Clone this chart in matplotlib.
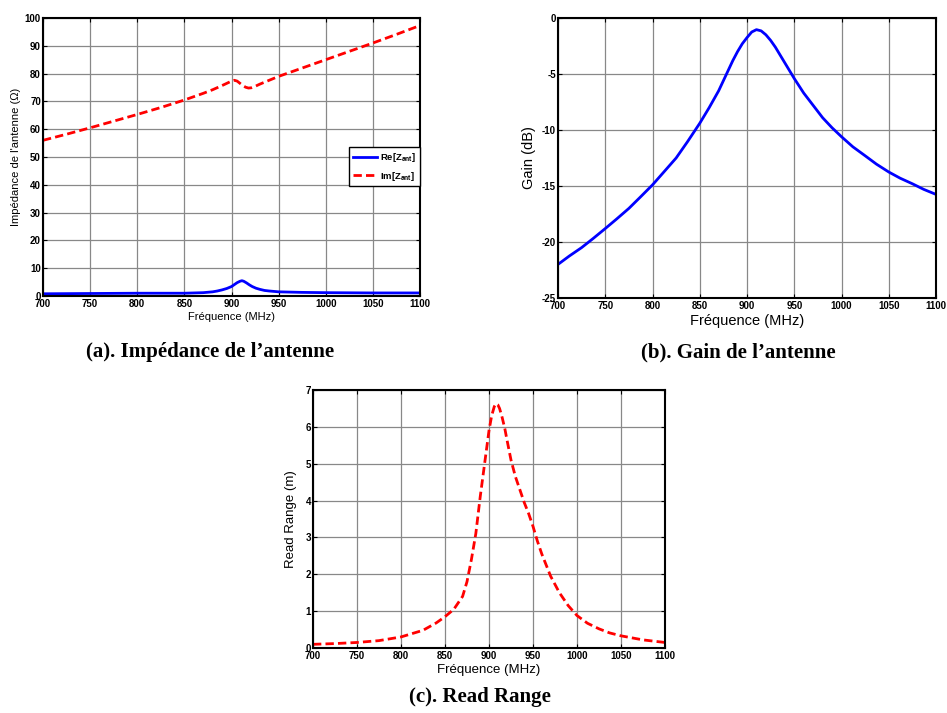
import matplotlib
matplotlib.use('Agg')
import matplotlib.pyplot as plt

# data
f_im = [700, 725, 750, 775, 800, 825, 850, 870, 880, 890, 895, 900, 903, 906, 909, 912, 915, 918, 921, 925, 930, 940, 950, 975, 1000, 1025, 1050, 1075, 1100]
im_z = [56.0, 58.2, 60.5, 62.9, 65.3, 67.8, 70.5, 72.9, 74.2, 75.7, 76.5, 77.3, 77.6, 77.3, 76.5, 75.7, 75.1, 74.8, 74.9, 75.4, 76.2, 77.6, 79.0, 82.0, 85.0, 88.0, 91.0, 94.1, 97.3]

f_re = [700, 750, 800, 850, 860, 870, 880, 885, 890, 895, 900, 903, 906, 909, 911, 913, 916, 919, 922, 926, 930, 935, 940, 950, 975, 1000, 1050, 1100]
re_z = [0.8, 0.9, 1.0, 1.0, 1.1, 1.2, 1.5, 1.8, 2.2, 2.7, 3.4, 4.1, 4.8, 5.3, 5.5, 5.3, 4.7, 4.0, 3.4, 2.8, 2.4, 2.0, 1.8, 1.5, 1.3, 1.2, 1.1, 1.1]

f_gain = [700, 712, 725, 737, 750, 762, 775, 787, 800, 812, 825, 837, 850, 860, 870, 875, 880, 885, 890, 895, 900, 905, 910, 915, 920, 925, 930, 935, 940, 945, 950, 960, 970, 980, 990, 1000, 1012, 1025, 1037, 1050, 1062, 1075, 1087, 1100]
gain = [-22.0, -21.25, -20.5, -19.7, -18.8, -17.95, -17.0, -16.0, -14.9, -13.75, -12.5, -11.05, -9.4, -8.0, -6.5, -5.6, -4.7, -3.8, -3.0, -2.3, -1.75, -1.25, -1.04, -1.15, -1.5, -2.0, -2.6, -3.3, -4.0, -4.7, -5.4, -6.7, -7.8, -8.9, -9.8, -10.6, -11.5, -12.3, -13.05, -13.75, -14.3, -14.8, -15.3, -15.75]

f_rr = [700, 725, 750, 775, 800, 825, 840, 850, 860, 870, 875, 880, 885, 890, 895, 900, 903, 906, 908, 910, 912, 915, 918, 920, 925, 930, 935, 940, 945, 950, 955, 960, 970, 980, 990, 1000, 1012, 1025, 1037, 1050, 1075, 1100]
rr = [0.1, 0.12, 0.15, 0.2, 0.3, 0.48, 0.68, 0.85, 1.05, 1.4, 1.8, 2.4, 3.1, 4.1, 5.0, 5.9, 6.3, 6.55, 6.63, 6.6, 6.5, 6.25, 5.95, 5.7, 5.1, 4.65, 4.3, 3.95, 3.65, 3.3, 2.9, 2.55, 1.95, 1.5, 1.15, 0.88, 0.67, 0.52, 0.41, 0.33, 0.22, 0.15]

xticks = [700, 750, 800, 850, 900, 950, 1000, 1050, 1100]


def style(ax, yticks, tick_size):
    ax.set_xlim(700, 1100)
    ax.set_xticks(xticks)
    ax.set_yticks(yticks)
    ax.set_ylim(yticks[0], yticks[-1])
    ax.grid(True, color='#888888', linewidth=0.9)
    ax.tick_params(direction='in', top=True, right=True, length=3, pad=1.5,
                   labelsize=tick_size)
    ax.tick_params(axis='x', pad=2.5)
    for lab in ax.get_xticklabels() + ax.get_yticklabels():
        lab.set_fontweight('bold')
    for s in ax.spines.values():
        s.set_linewidth(1.5)


plt.rcParams['font.family'] = ['Liberation Sans', 'DejaVu Sans']
plt.rcParams['axes.unicode_minus'] = False
plt.rcParams['mathtext.fontset'] = 'custom'
plt.rcParams['mathtext.rm'] = 'Liberation Sans:bold'
plt.rcParams['mathtext.it'] = 'Liberation Sans:bold'
fig = plt.figure(figsize=(9.47, 7.13), dpi=100)
W, H = 947.0, 713.0


def add_ax(l, t, r, b):
    return fig.add_axes([l / W, 1 - b / H, (r - l) / W, (b - t) / H])


# (a) impedance
ax1 = add_ax(43, 18, 420, 296)
ax1.plot(f_re, re_z, color='#0000ff', lw=2, label='Re[Z$_{\\mathrm{ant}}$]')
ax1.plot(f_im, im_z, color='#ff0000', lw=2, ls=(0, (3, 1.5)), label='Im[Z$_{\\mathrm{ant}}$]')
style(ax1, list(range(0, 101, 10)), 7)
ax1.set_xlabel('Fréquence (MHz)', fontsize=8, labelpad=2)
ax1.set_ylabel("Impédance de l'antenne (Ω)", fontsize=8, labelpad=3)
leg = ax1.legend(loc='upper right', bbox_to_anchor=(1.0, 0.535), fontsize=6.8,
                 fancybox=False, framealpha=1, edgecolor='black',
                 handlelength=2.6, borderpad=0.4, labelspacing=0.6, handletextpad=0.3,
                 borderaxespad=0)
for t in leg.get_texts():
    t.set_fontweight('bold')

# (b) gain
ax2 = add_ax(558, 18, 936, 298)
ax2.plot(f_gain, gain, color='#0000ff', lw=2)
style(ax2, [-25, -20, -15, -10, -5, 0], 7)
ax2.set_xlabel('Fréquence (MHz)', fontsize=10.5, labelpad=2)
ax2.set_ylabel('Gain (dB)', fontsize=10.5, labelpad=4)

# (c) read range
ax3 = add_ax(313, 390, 665, 648)
ax3.plot(f_rr, rr, color='#ff0000', lw=2, ls=(0, (3, 1.5)))
style(ax3, list(range(0, 8)), 7)
ax3.set_xlabel('Fréquence (MHz)', fontsize=9.5, labelpad=2)
ax3.set_ylabel('Read Range (m)', fontsize=9.5, labelpad=6)

tfont = dict(family='Liberation Serif', fontweight='bold', fontsize=15, ha='center', va='center')
fig.text(210 / W, 1 - 352 / H, '(a). Impédance de l\u2019antenne', **tfont)
fig.text(738 / W, 1 - 352 / H, '(b). Gain de l\u2019antenne', **tfont)
fig.text(480 / W, 1 - 697 / H, '(c). Read Range', **tfont)

fig.savefig('out.png', dpi=100)
